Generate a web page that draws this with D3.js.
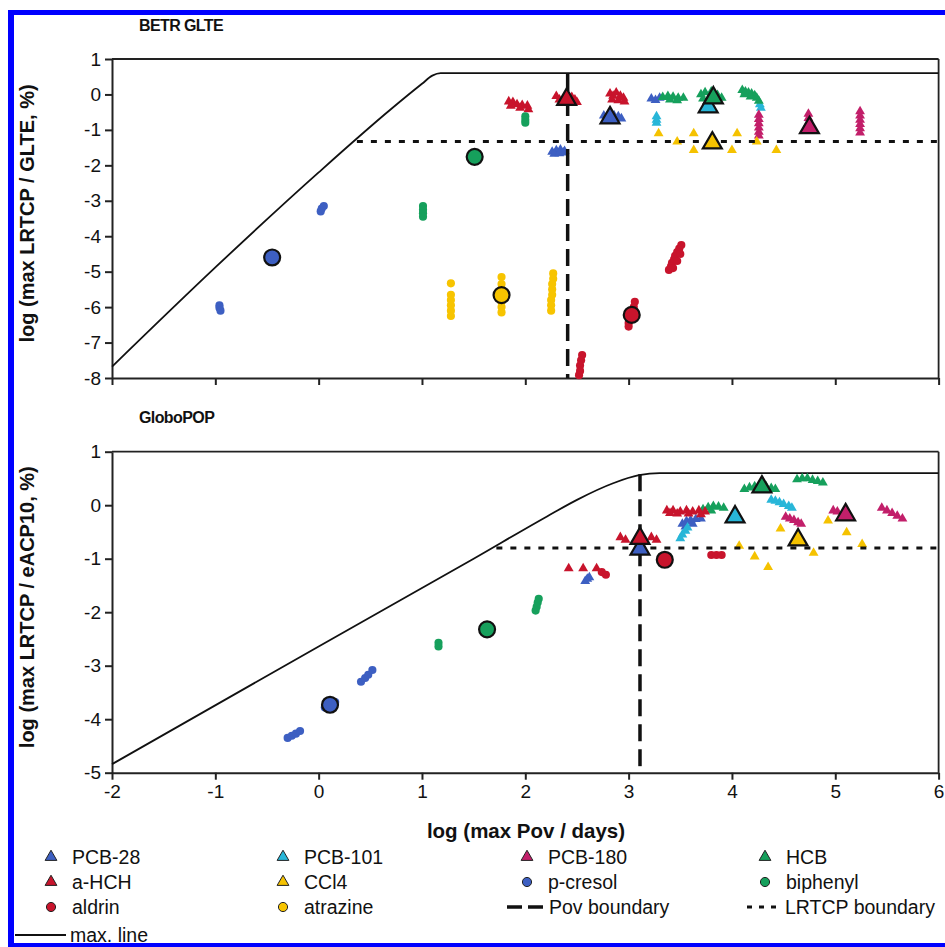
<!DOCTYPE html>
<html><head><meta charset="utf-8">
<script src="https://cdn.jsdelivr.net/npm/d3@7"></script>
<style>body{margin:0;background:#fff} svg{display:block} text{font-family:"Liberation Sans",Arial,sans-serif;fill:#111}</style>
</head><body><svg id="c" width="945" height="947"></svg>
<script>
// ---------- legend / series ----------
const seriesNames = ["PCB-28","PCB-101","PCB-180","HCB","a-HCH","CCl4","p-cresol","biphenyl","aldrin","atrazine"];
const seriesShapes = ["tri","tri","tri","tri","tri","tri","circ","circ","circ","circ"];
const seriesColors = ["#3d5fc2","#28b6d8","#c21f6a","#16a05c","#c8142c","#f5c200","#3d5fc2","#16a05c","#c8142c","#f7c400"];

// ---------- axis ticks ----------
const xTicks = [-2,-1,0,1,2,3,4,5,6];
const yTicksTop = [-8,-7,-6,-5,-4,-3,-2,-1,0,1];
const yTicksBot = [-5,-4,-3,-2,-1,0,1];

// ---------- BETR GLTE (top) : [log Pov, log LRTCP] ----------
const glte_PCB28 = [[2.76,-0.6],[2.8,-0.58],[2.86,-0.6],[2.9,-0.62],[2.93,-0.68],[2.78,-0.7],[2.26,-1.62],[2.3,-1.58],[2.34,-1.56],[2.38,-1.6],[2.28,-1.68],[2.33,-1.66],[2.37,-1.64],[3.22,-0.12],[3.26,-0.16],[3.3,-0.1]];
const glte_PCB101 = [[3.27,-0.62],[3.27,-0.72],[3.27,-0.8],[4.27,-0.28],[4.28,-0.38]];
const glte_PCB180 = [[4.26,-0.58],[4.26,-0.7],[4.26,-0.82],[4.26,-0.94],[4.26,-1.06],[4.26,-1.16],[4.74,-0.55],[4.74,-0.67],[4.74,-0.8],[5.24,-0.48],[5.24,-0.6],[5.24,-0.72],[5.24,-0.84],[5.24,-0.96],[5.24,-1.08]];
const glte_HCB = [[3.33,-0.08],[3.38,-0.05],[3.43,-0.07],[3.48,-0.1],[3.53,-0.1],[3.4,-0.15],[3.47,-0.17],[3.7,0.0],[3.74,0.06],[3.8,0.08],[3.86,-0.02],[3.9,-0.1],[3.72,-0.12],[4.1,0.12],[4.13,0.08],[4.16,0.05],[4.19,0.02],[4.22,-0.03],[4.24,-0.1],[4.26,-0.18],[4.12,0.0],[4.18,-0.06]];
const glte_aHCH = [[1.84,-0.2],[1.88,-0.22],[1.92,-0.28],[1.97,-0.3],[2.02,-0.32],[1.86,-0.32],[1.95,-0.38],[2.03,-0.42],[2.3,-0.05],[2.33,-0.15],[2.45,-0.08],[2.48,-0.15],[2.5,-0.22],[2.36,-0.22],[2.82,0.02],[2.85,-0.04],[2.88,0.05],[2.92,-0.04],[2.95,-0.1],[2.84,-0.15],[2.9,-0.17],[2.96,-0.2]];
const glte_CCl4 = [[3.29,-1.1],[3.47,-1.33],[3.63,-1.1],[3.63,-1.57],[4.05,-1.1],[4.0,-1.57],[4.24,-1.33],[4.43,-1.57]];
const glte_pcresol = [[-0.96,-5.95],[-0.96,-6.02],[-0.95,-6.1],[0.02,-3.3],[0.03,-3.22],[0.05,-3.15]];
const glte_biphenyl = [[1.01,-3.15],[1.01,-3.25],[1.01,-3.35],[1.01,-3.45],[2.0,-0.62],[2.0,-0.72],[2.0,-0.8]];
const glte_aldrin = [[2.55,-7.35],[2.54,-7.5],[2.53,-7.65],[2.53,-7.8],[2.52,-7.92],[3.06,-5.85],[3.05,-6.0],[3.03,-6.15],[3.02,-6.3],[3.0,-6.45],[3.0,-6.55],[3.39,-4.95],[3.41,-4.85],[3.42,-4.75],[3.44,-4.65],[3.45,-4.55],[3.47,-4.45],[3.49,-4.35],[3.51,-4.25],[3.43,-4.9],[3.47,-4.7],[3.5,-4.5]];
const glte_atrazine = [[1.28,-5.33],[1.28,-5.65],[1.28,-5.8],[1.28,-5.95],[1.28,-6.1],[1.28,-6.25],[1.77,-5.15],[1.77,-5.35],[1.77,-5.5],[1.77,-5.85],[1.77,-6.0],[1.77,-6.15],[2.27,-5.05],[2.27,-5.2],[2.26,-5.35],[2.26,-5.5],[2.26,-5.65],[2.25,-5.8],[2.25,-5.95],[2.25,-6.1]];
// highlighted (reference) points, same order as seriesNames
const glte_highlight = [[2.82,-0.66],[3.77,-0.35],[4.75,-0.94],[3.82,-0.1],[2.4,-0.14],[3.81,-1.37],[-0.45,-4.6],[1.51,-1.76],[3.03,-6.22],[1.77,-5.66]];
const glte_maxline = [[-2,-7.68],[-1,-4.88],[0,-2.2],[0.69,-0.44],[1.0,0.3],[1.1,0.53],[1.18,0.6],[6,0.6]];
const glte_povBoundary = 2.41;
const glte_lrtcpBoundary = -1.33;
const glte_lrtcpStart = 0.37;

// ---------- GloboPOP (bottom) ----------
const gpop_PCB28 = [[2.58,-1.42],[2.6,-1.38],[2.62,-1.35],[3.52,-0.35],[3.56,-0.3],[3.6,-0.28],[3.65,-0.26],[3.7,-0.25],[3.55,-0.4],[3.62,-0.35]];
const gpop_PCB101 = [[3.5,-0.62],[3.52,-0.55],[3.55,-0.48],[3.57,-0.42],[4.38,0.1],[4.42,0.08],[4.46,0.05],[4.5,0.02],[4.55,-0.02],[4.58,-0.05]];
const gpop_PCB180 = [[4.52,-0.22],[4.56,-0.25],[4.6,-0.28],[4.64,-0.32],[4.67,-0.35],[4.98,-0.1],[5.02,-0.12],[5.45,-0.05],[5.5,-0.1],[5.55,-0.15],[5.6,-0.2],[5.65,-0.25]];
const gpop_HCB = [[3.72,-0.08],[3.77,-0.04],[3.82,-0.02],[3.87,-0.03],[3.92,-0.05],[3.8,-0.1],[4.12,0.3],[4.17,0.33],[4.22,0.35],[4.33,0.35],[4.38,0.32],[4.42,0.3],[4.63,0.48],[4.68,0.5],[4.73,0.5],[4.78,0.47],[4.83,0.45],[4.88,0.42]];
const gpop_aHCH = [[2.42,-1.18],[2.56,-1.18],[2.69,-1.18],[2.92,-0.6],[2.97,-0.65],[3.22,-0.6],[3.27,-0.65],[3.37,-0.1],[3.43,-0.1],[3.5,-0.12],[3.56,-0.1],[3.62,-0.12],[3.68,-0.1],[3.74,-0.12],[3.4,-0.15],[3.47,-0.16],[3.58,-0.16],[3.7,-0.17]];
const gpop_CCl4 = [[4.07,-0.76],[4.22,-0.96],[4.35,-1.16],[4.47,-0.44],[4.93,-0.29],[4.79,-0.89],[5.11,-0.51],[5.26,-0.73]];
const gpop_pcresol = [[-0.3,-4.35],[-0.26,-4.31],[-0.22,-4.27],[-0.18,-4.22],[0.06,-3.78],[0.16,-3.68],[0.41,-3.3],[0.45,-3.23],[0.48,-3.17],[0.52,-3.08]];
const gpop_biphenyl = [[1.16,-2.57],[1.16,-2.64],[2.13,-1.75],[2.12,-1.82],[2.11,-1.9],[2.1,-1.97]];
const gpop_aldrin = [[2.74,-1.25],[2.78,-1.3],[3.8,-0.93],[3.85,-0.93],[3.9,-0.93]];
const gpop_atrazine = [];
const gpop_highlight = [[3.11,-0.82],[4.03,-0.22],[5.1,-0.18],[4.29,0.34],[3.11,-0.62],[4.64,-0.65],[0.11,-3.73],[1.63,-2.32],[3.35,-1.02],null];
const gpop_maxline = [[-2,-4.84],[0,-2.64],[1.5,-1.0],[2.21,-0.21],[2.5,0.1],[2.85,0.41],[3.1,0.56],[3.3,0.6],[6,0.6]];
const gpop_povBoundary = 3.11;
const gpop_lrtcpBoundary = -0.8;
const gpop_lrtcpStart = 1.72;

const glteSeries = [glte_PCB28,glte_PCB101,glte_PCB180,glte_HCB,glte_aHCH,glte_CCl4,glte_pcresol,glte_biphenyl,glte_aldrin,glte_atrazine];
const gpopSeries = [gpop_PCB28,gpop_PCB101,gpop_PCB180,gpop_HCB,gpop_aHCH,gpop_CCl4,gpop_pcresol,gpop_biphenyl,gpop_aldrin,gpop_atrazine];

// ---------- drawing ----------
const svg = d3.select("#c");
const FONT = '"Liberation Sans",Arial,sans-serif';

// blue frame of the figure
svg.append("line").attr("x1",8).attr("x2",945).attr("y1",12.5).attr("y2",12.5).attr("stroke","#0000ff").attr("stroke-width",5);
svg.append("line").attr("x1",11).attr("x2",11).attr("y1",10).attr("y2",947).attr("stroke","#0000ff").attr("stroke-width",6);
svg.append("line").attr("x1",8).attr("x2",945).attr("y1",945).attr("y2",945).attr("stroke","#0000ff").attr("stroke-width",4);

const x = d3.scaleLinear().domain([-2,6]).range([112,938.6]);
const yTop = d3.scaleLinear().domain([-8,1]).range([378,59]);
const yBot = d3.scaleLinear().domain([-5,1]).range([772.7,451.7]);

const symTri = d3.symbolTriangle, symCirc = d3.symbolCircle;
function sym(shape, size){ return d3.symbol().type(shape==="tri"?symTri:symCirc).size(size)(); }

function panel(y, ticksY, seriesData, highlight, maxline, pov, lrtcp, lrtcpStart, title, titleY, ylabel, showXLabels){
  const g = svg.append("g");
  // frame top/right
  g.append("line").attr("x1",x(-2)).attr("x2",x(6)).attr("y1",y(ticksY[ticksY.length-1])).attr("y2",y(ticksY[ticksY.length-1])).attr("stroke","#222").attr("stroke-width",1.8);
  g.append("line").attr("x1",x(6)).attr("x2",x(6)).attr("y1",y(ticksY[0])).attr("y2",y(ticksY[ticksY.length-1])).attr("stroke","#222").attr("stroke-width",1.8);

  const ax = g.append("g").attr("transform",`translate(0,${y(ticksY[0])})`)
    .call(d3.axisBottom(x).tickValues(xTicks).tickSize(7).tickSizeOuter(0).tickPadding(5).tickFormat(d=>showXLabels?String(d):""));
  const ay = g.append("g").attr("transform",`translate(${x(-2)},0)`)
    .call(d3.axisLeft(y).tickValues(ticksY).tickSize(7).tickSizeOuter(0).tickPadding(4).tickFormat(d=>String(d)));
  [ax,ay].forEach(a=>{
    a.selectAll("path.domain").attr("stroke","#222").attr("stroke-width",2);
    a.selectAll(".tick line").attr("stroke","#222").attr("stroke-width",2);
    a.selectAll("text").attr("font-family",FONT).attr("font-size",19).attr("fill","#111");
  });

  // max line
  const line = d3.line().x(d=>x(d[0])).y(d=>y(d[1])).curve(d3.curveMonotoneX);
  g.append("path").attr("d",line(maxline)).attr("fill","none").attr("stroke","#111").attr("stroke-width",1.8);

  // small points
  seriesData.forEach((pts,i)=>{
    g.append("g").selectAll("path").data(pts).enter().append("path")
      .attr("d",sym(seriesShapes[i], seriesShapes[i]==="tri"?42:52))
      .attr("transform",d=>`translate(${x(d[0])},${y(d[1])})`)
      .attr("fill",seriesColors[i]);
  });

  // boundaries
  g.append("line").attr("x1",x(pov)).attr("x2",x(pov)).attr("y1",y(0.58)).attr("y2",y(ticksY[0]))
    .attr("stroke","#111").attr("stroke-width",3.5).attr("stroke-dasharray","17,8");
  g.append("line").attr("x1",x(lrtcpStart)).attr("x2",x(6)).attr("y1",y(lrtcp)).attr("y2",y(lrtcp))
    .attr("stroke","#111").attr("stroke-width",3).attr("stroke-dasharray","6,8");

  // highlighted points
  highlight.forEach((d,i)=>{
    if(!d) return;
    g.append("path").attr("d",sym(seriesShapes[i], seriesShapes[i]==="tri"?155:200))
      .attr("transform",`translate(${x(d[0])},${y(d[1])})`)
      .attr("fill",seriesColors[i]).attr("stroke","#111").attr("stroke-width",2.2);
  });

  g.append("text").attr("x",139).attr("y",titleY).attr("font-size",16).attr("font-weight","bold").attr("letter-spacing",-0.6).text(title);
  const cy = (y(ticksY[0])+y(ticksY[ticksY.length-1]))/2 - 5;
  g.append("text").attr("transform",`translate(34,${cy}) rotate(-90)`).attr("text-anchor","middle")
    .attr("font-size",20).attr("font-weight","bold").text(ylabel);
}

panel(yTop, yTicksTop, glteSeries, glte_highlight, glte_maxline, glte_povBoundary, glte_lrtcpBoundary, glte_lrtcpStart, "BETR GLTE", 31, "log (max LRTCP / GLTE, %)", false);
panel(yBot, yTicksBot, gpopSeries, gpop_highlight, gpop_maxline, gpop_povBoundary, gpop_lrtcpBoundary, gpop_lrtcpStart, "GloboPOP", 423, "log (max LRTCP / eACP10, %)", true);

// x-axis title
svg.append("text").attr("x",526).attr("y",838).attr("text-anchor","middle").attr("font-size",20.5).attr("font-weight","bold").text("log (max Pov / days)");

// ---------- legend ----------
const legendCols = [51,283,527,765];
const legendRows = [857,882,907];
seriesNames.forEach((n,i)=>{
  const cx = legendCols[i%4], cy = legendRows[Math.floor(i/4)];
  svg.append("path").attr("d",sym(seriesShapes[i], seriesShapes[i]==="tri"?60:66))
    .attr("transform",`translate(${cx},${cy})`).attr("fill",seriesColors[i]).attr("stroke","#222").attr("stroke-width",1);
  svg.append("text").attr("x",cx+21).attr("y",cy+7).attr("font-size",19.5).text(n);
});
// Pov boundary
svg.append("line").attr("x1",507).attr("x2",546).attr("y1",legendRows[2]).attr("y2",legendRows[2]).attr("stroke","#111").attr("stroke-width",3.5).attr("stroke-dasharray","15,6");
svg.append("text").attr("x",549).attr("y",legendRows[2]+7).attr("font-size",19.5).text("Pov boundary");
// LRTCP boundary
svg.append("line").attr("x1",747).attr("x2",782).attr("y1",legendRows[2]).attr("y2",legendRows[2]).attr("stroke","#111").attr("stroke-width",3).attr("stroke-dasharray","5,7");
svg.append("text").attr("x",785).attr("y",legendRows[2]+7).attr("font-size",19.5).text("LRTCP boundary");
// max line
svg.append("line").attr("x1",15).attr("x2",66).attr("y1",935).attr("y2",935).attr("stroke","#111").attr("stroke-width",1.8);
svg.append("text").attr("x",70).attr("y",942).attr("font-size",19.5).text("max. line");
</script></body></html>
